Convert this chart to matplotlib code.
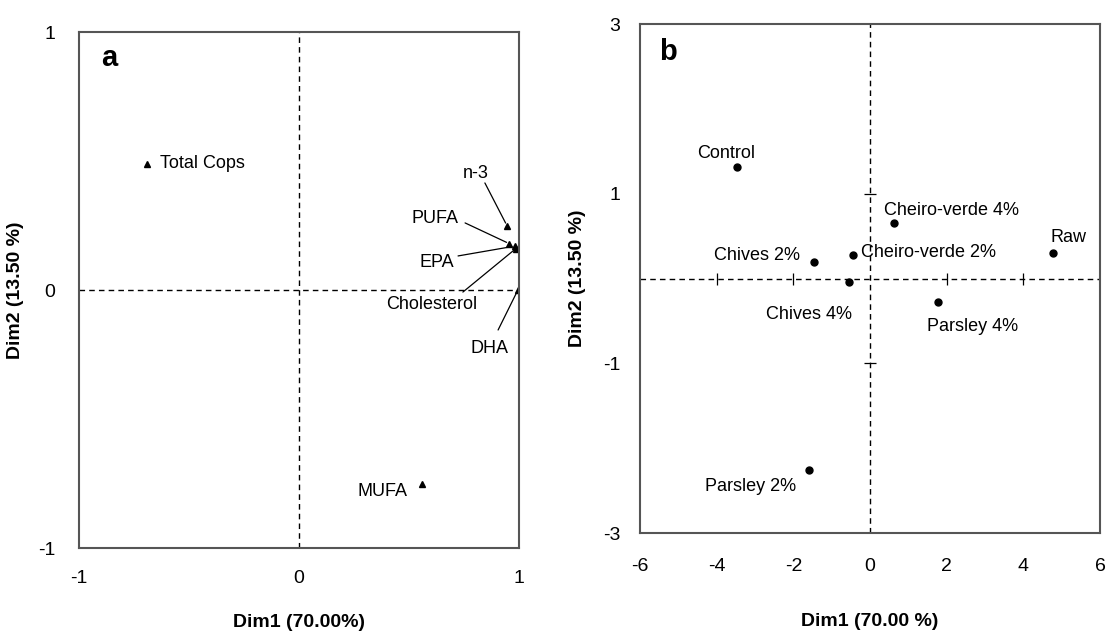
import matplotlib.pyplot as plt

plt.rcParams['font.family'] = ['Liberation Sans', 'DejaVu Sans']
plt.rcParams['axes.unicode_minus'] = False

# panel a: variables (loadings)
var_names = ['Total Cops', 'n-3', 'PUFA', 'EPA', 'Cholesterol', 'DHA', 'MUFA']
var_x = [-0.69, 0.945, 0.955, 0.98, 0.985, 0.995, 0.56]
var_y = [0.49, 0.25, 0.18, 0.17, 0.16, 0.0, -0.75]

# panel b: samples (scores)
smp_names = ['Control', 'Cheiro-verde 4%', 'Raw', 'Chives 2%', 'Cheiro-verde 2%',
             'Chives 4%', 'Parsley 4%', 'Parsley 2%']
smp_x = [-3.46, 0.63, 4.77, -1.45, -0.44, -0.56, 1.78, -1.59]
smp_y = [1.32, 0.65, 0.30, 0.19, 0.28, -0.04, -0.28, -2.26]

fig = plt.figure(figsize=(11.08, 6.35), dpi=100)
ax1 = fig.add_axes([0.0713, 0.137, 0.3971, 0.8126])
ax2 = fig.add_axes([0.5776, 0.1606, 0.4152, 0.8016])

frame = '#555555'
for ax in (ax1, ax2):
    for sp in ax.spines.values():
        sp.set_color(frame)
        sp.set_linewidth(1.5)
    ax.tick_params(length=0, labelsize=14)

# ---- panel a ----
ax1.set_xlim(-1, 1)
ax1.set_ylim(-1, 1)
ax1.axhline(0, color='black', ls=(0, (4, 3)), lw=1)
ax1.axvline(0, color='black', ls=(0, (4, 3)), lw=1)
ax1.plot(var_x, var_y, '^', color='black', ms=5, ls='none')
ax1.set_xticks([-1, 0, 1])
ax1.set_yticks([-1, 0, 1])
ax1.tick_params(axis='x', pad=16)
ax1.tick_params(axis='y', pad=17)

# label text position, line start (None = label sits next to the point)
lab_a = {
    'Total Cops': ((-0.632, 0.49), None, 'left'),
    'n-3': ((0.805, 0.453), (0.845, 0.415), 'center'),
    'PUFA': ((0.618, 0.279), (0.755, 0.26), 'center'),
    'EPA': ((0.627, 0.105), (0.723, 0.132), 'center'),
    'Cholesterol': ((0.605, -0.058), (0.745, -0.008), 'center'),
    'DHA': ((0.868, -0.225), (0.905, -0.155), 'center'),
    'MUFA': ((0.495, -0.78), None, 'right'),
}
for name, px, py in zip(var_names, var_x, var_y):
    (tx, ty), start, ha = lab_a[name]
    ax1.text(tx, ty, name, ha=ha, va='center', fontsize=13)
    if start is not None:
        ax1.annotate('', xy=(px, py), xytext=start,
                     arrowprops=dict(arrowstyle='-', color='black', lw=0.9,
                                     shrinkA=0, shrinkB=2))
ax1.text(-0.9, 0.9, 'a', fontsize=21, fontweight='bold', va='center')
ax1.set_xlabel('Dim1 (70.00%)', fontsize=14, fontweight='bold')
ax1.set_ylabel('Dim2 (13.50 %)', fontsize=14, fontweight='bold')
ax1.xaxis.set_label_coords(0.5, -0.128)
ax1.yaxis.set_label_coords(-0.125, 0.5)

# ---- panel b ----
ax2.set_xlim(-6, 6)
ax2.set_ylim(-3, 3)
ax2.axhline(0, color='black', ls=(0, (4, 3)), lw=1)
ax2.axvline(0, color='black', ls=(0, (4, 3)), lw=1)
ax2.plot([-4, -2, 2, 4], [0, 0, 0, 0], '|', color='black', ms=9, mew=0.9)
ax2.plot([0, 0], [-1, 1], '_', color='black', ms=9, mew=0.9)
ax2.plot(smp_x, smp_y, 'o', color='black', ms=5, ls='none')
ax2.set_xticks([-6, -4, -2, 0, 2, 4, 6])
ax2.set_yticks([-3, -1, 1, 3])
ax2.tick_params(axis='x', pad=18)
ax2.tick_params(axis='y', pad=14)

lab_b = {
    'Control': (-3.74, 1.47, 'center'),
    'Cheiro-verde 4%': (0.36, 0.80, 'left'),
    'Raw': (4.70, 0.48, 'left'),
    'Chives 2%': (-2.94, 0.27, 'center'),
    'Cheiro-verde 2%': (-0.24, 0.31, 'left'),
    'Chives 4%': (-1.58, -0.42, 'center'),
    'Parsley 4%': (2.67, -0.57, 'center'),
    'Parsley 2%': (-3.12, -2.45, 'center'),
}
for name in smp_names:
    tx, ty, ha = lab_b[name]
    ax2.text(tx, ty, name, ha=ha, va='center', fontsize=13)
ax2.text(-5.5, 2.67, 'b', fontsize=21, fontweight='bold', va='center')
ax2.set_xlabel('Dim1 (70.00 %)', fontsize=14, fontweight='bold')
ax2.set_ylabel('Dim2 (13.50 %)', fontsize=14, fontweight='bold')
ax2.xaxis.set_label_coords(0.5, -0.158)
ax2.yaxis.set_label_coords(-0.117, 0.5)

fig.savefig('out.png', dpi=100)
